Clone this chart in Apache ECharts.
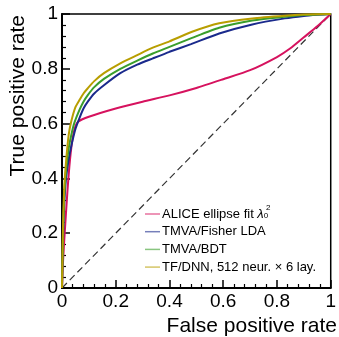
<!DOCTYPE html>
<html><head><meta charset="utf-8">
<script src="https://cdn.jsdelivr.net/npm/echarts@6/dist/echarts.min.js"></script>
<style>html,body{margin:0;padding:0;background:#fff}#c{width:339px;height:337px}</style>
</head><body><div id="c"></div>
<script>
// ---- data ----
const seriesNames = ['ALICE ellipse fit', 'TMVA/Fisher LDA', 'TMVA/BDT', 'TF/DNN, 512 neur. \u00d7 6 lay.'];
const fprAlice = [0, 0.004, 0.01, 0.02, 0.03, 0.04, 0.05, 0.06, 0.1, 0.2, 0.3, 0.4, 0.5, 0.6, 0.7, 0.8, 0.85, 0.9, 0.95, 1];
const tprAlice = [0, 0.1, 0.2, 0.35, 0.47, 0.55, 0.59, 0.607, 0.625, 0.655, 0.68, 0.703, 0.73, 0.762, 0.795, 0.843, 0.875, 0.915, 0.955, 1];
const fprFisher = [0, 0.003, 0.008, 0.015, 0.025, 0.035, 0.05, 0.065, 0.08, 0.096, 0.12, 0.156, 0.217, 0.28, 0.338, 0.4, 0.48, 0.585, 0.708, 0.829, 0.9, 0.95, 1];
const tprFisher = [0, 0.15, 0.3, 0.4, 0.47, 0.52, 0.58, 0.62, 0.655, 0.68, 0.71, 0.74, 0.784, 0.815, 0.838, 0.862, 0.89, 0.929, 0.962, 0.984, 0.993, 0.997, 1];
const fprBDT = [0, 0.003, 0.008, 0.015, 0.025, 0.035, 0.045, 0.065, 0.08, 0.096, 0.12, 0.156, 0.217, 0.28, 0.338, 0.4, 0.484, 0.585, 0.708, 0.829, 0.9, 1];
const tprBDT = [0, 0.17, 0.33, 0.43, 0.51, 0.56, 0.6, 0.65, 0.68, 0.704, 0.733, 0.763, 0.8, 0.83, 0.856, 0.88, 0.913, 0.95, 0.976, 0.99, 0.996, 1];
const fprDNN = [0, 0.003, 0.008, 0.015, 0.025, 0.035, 0.05, 0.065, 0.08, 0.096, 0.12, 0.156, 0.217, 0.28, 0.338, 0.4, 0.484, 0.585, 0.708, 0.829, 0.9, 1];
const tprDNN = [0, 0.2, 0.36, 0.46, 0.56, 0.61, 0.66, 0.686, 0.71, 0.729, 0.755, 0.784, 0.82, 0.85, 0.877, 0.9, 0.935, 0.966, 0.984, 0.994, 0.998, 1];
const diagonal = [0, 1];
const tickValues = [0, 0.2, 0.4, 0.6, 0.8, 1];
const colors = ['#d6125e', '#1a2a8c', '#3a9e2c', '#b89e00'];

const zip = (xs, ys) => xs.map((x, i) => [x, ys[i]]);
const F = 'Liberation Sans, Arial, Helvetica, sans-serif';

const chart = echarts.init(document.getElementById('c'), null, {renderer: 'canvas'});
const axisCommon = {
  type: 'value', min: 0, max: 1, interval: 0.2,
  axisLine: {show: true, lineStyle: {color: '#000', width: 2}},
  axisTick: {show: true, inside: true, length: 8, lineStyle: {color: '#000', width: 1.5}},
  minorTick: {show: true, splitNumber: 5, length: 4, lineStyle: {color: '#000', width: 1.2}},
  splitLine: {show: false},
  axisLabel: {color: '#000', fontFamily: F, fontSize: 19, margin: 4,
    formatter: v => (tickValues.indexOf(+v.toFixed(1)) >= 0 ? String(+v.toFixed(1)) : '')},
};
const lineSeries = [[fprAlice, tprAlice], [fprFisher, tprFisher], [fprBDT, tprBDT], [fprDNN, tprDNN]].map((d, i) => ({
  name: seriesNames[i], type: 'line', data: zip(d[0], d[1]), showSymbol: false, symbol: 'none',
  smooth: 0.2, lineStyle: {color: colors[i], width: 2}, itemStyle: {color: colors[i]}, z: 3 + i, silent: true
}));
chart.setOption({
  animation: false,
  backgroundColor: '#fff',
  grid: {left: 62, right: 2, top: 14, bottom: 49, show: true, borderColor: '#000', borderWidth: 1.5, backgroundColor: 'transparent'},
  xAxis: Object.assign({}, axisCommon),
  yAxis: Object.assign({}, axisCommon),
  legend: {
    orient: 'vertical', left: 145, top: 207, padding: 0, itemWidth: 15, itemHeight: 1.5, itemGap: 4.7, icon: 'rect',
    data: seriesNames.map((n, i) => ({name: n, itemStyle: {color: colors[i], opacity: 0.6}})),
    textStyle: {color: '#000', fontFamily: F, fontSize: 13, lineHeight: 12, padding: [0, 0, 0, -3],
      rich: {l: {fontFamily: F, fontSize: 13, fontStyle: 'italic', lineHeight: 12}, s: {fontFamily: F, fontSize: 8, verticalAlign: 'bottom', lineHeight: 12, padding: [5, 0, 0, 0]}}},
    formatter: n => n === seriesNames[0] ? n + ' {l|\u03bb}{s|0}' : n,
    selectedMode: false
  },
  graphic: [
    {type: 'text', left: 266, top: 204, style: {text: '2', font: '8px ' + F, fill: '#000'}},
    {type: 'text', x: 337, y: 326, style: {text: 'False positive rate', font: '21px ' + F, fill: '#000', align: 'right', verticalAlign: 'middle'}},
    {type: 'text', x: 18, y: 15, rotation: Math.PI / 2, style: {text: 'True positive rate', font: '21px ' + F, fill: '#000', align: 'right', verticalAlign: 'middle'}}
  ],
  series: [
    {type: 'line', data: zip(diagonal, diagonal), showSymbol: false, symbol: 'none', silent: true,
      lineStyle: {color: '#333', width: 1.2, type: [7, 4]}, z: 2}
  ].concat(lineSeries)
});
</script></body></html>
